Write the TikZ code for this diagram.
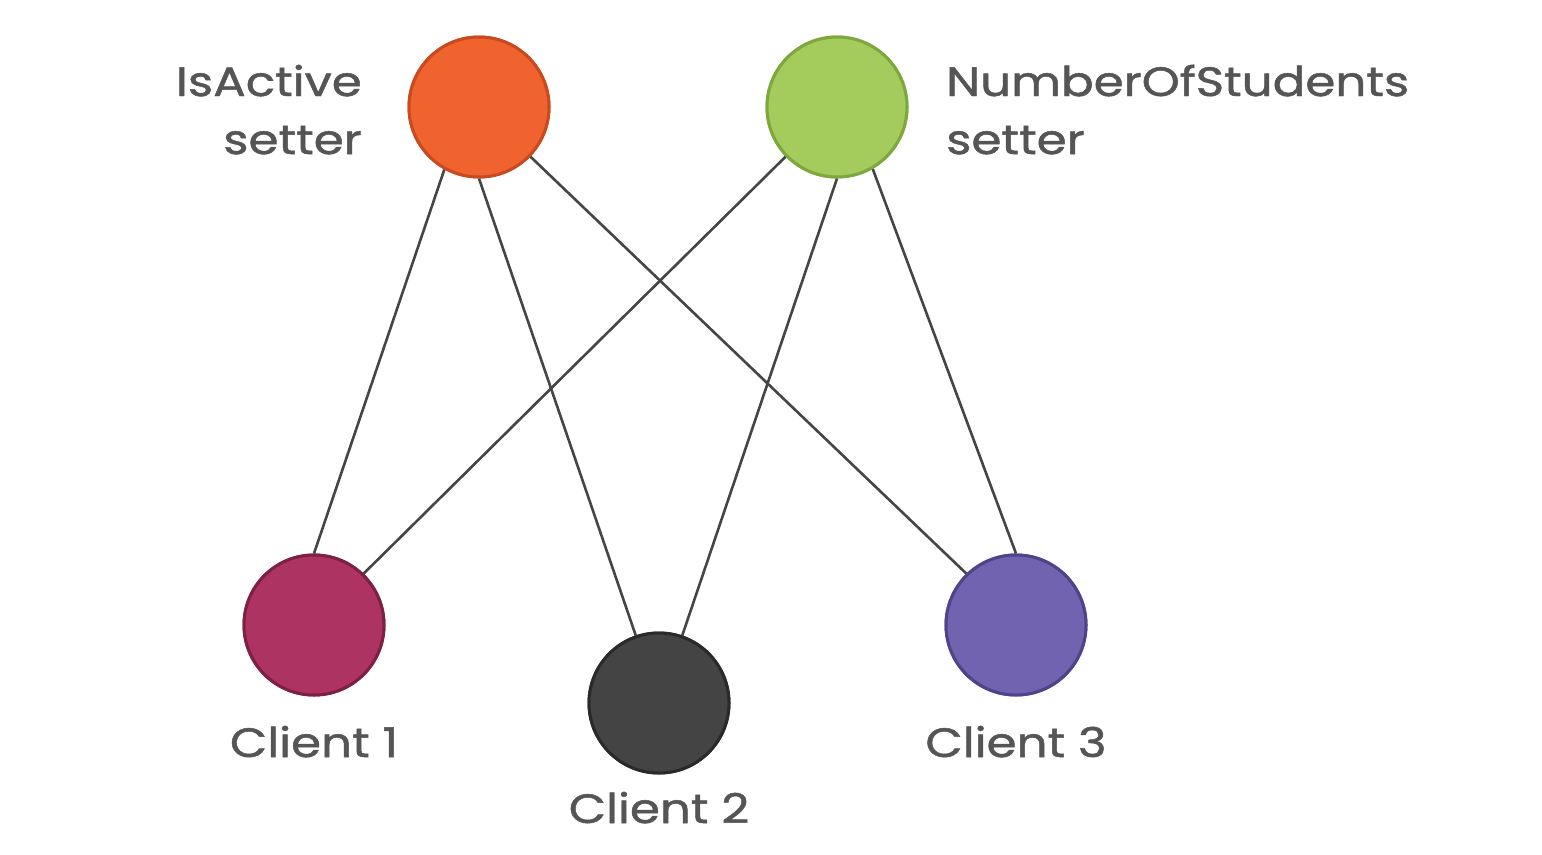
\documentclass[tikz,border=0pt]{standalone}
\usepackage{fontspec}
\setmainfont{Poppins}[FakeStretch=1.18, FakeBold=1.2]
\definecolor{txt}{HTML}{555555}
\definecolor{edge}{HTML}{454545}
\definecolor{orfill}{HTML}{F0632F}
\definecolor{ordraw}{HTML}{C94A1F}
\definecolor{grfill}{HTML}{A4CC5C}
\definecolor{grdraw}{HTML}{7EA83E}
\definecolor{c1fill}{HTML}{AD3462}
\definecolor{c1draw}{HTML}{7E1F45}
\definecolor{c2fill}{HTML}{444444}
\definecolor{c2draw}{HTML}{2A2A2A}
\definecolor{c3fill}{HTML}{7263B0}
\definecolor{c3draw}{HTML}{50438A}
\tikzset{
  ball/.style={circle, minimum size=140pt, inner sep=0pt, line width=3pt},
  link/.style={edge, line width=2.6pt},
  lbl/.style={text=txt, font=\fontsize{41}{58}\selectfont, inner sep=0pt}
}
\begin{document}
\begin{tikzpicture}[x=1pt,y=-1pt]
\useasboundingbox[fill=white] (0,0) rectangle (1542,854);
\node[ball, fill=orfill, draw=ordraw] (ia) at (479,107) {};
\node[ball, fill=grfill, draw=grdraw] (ns) at (837,107) {};
\node[ball, fill=c1fill, draw=c1draw] (c1) at (314,625) {};
\node[ball, fill=c2fill, draw=c2draw] (c2) at (659,703) {};
\node[ball, fill=c3fill, draw=c3draw] (c3) at (1016,625) {};
\draw[link] (ia.-119) -- (c1.90);
\draw[link] (ia.-90) -- (c2.109);
\draw[link] (ia.-44) -- (c3.134);
\draw[link] (ns.-136) -- (c1.46);
\draw[link] (ns.-90) -- (c2.71);
\draw[link] (ns.-60) -- (c3.90);
% circles again, above the links
\node[ball, fill=orfill, draw=ordraw] at (ia) {};
\node[ball, fill=grfill, draw=grdraw] at (ns) {};
\node[ball, fill=c1fill, draw=c1draw] at (c1) {};
\node[ball, fill=c2fill, draw=c2draw] at (c2) {};
\node[ball, fill=c3fill, draw=c3draw] at (c3) {};
% labels
\node[lbl, anchor=base east] (l1a) at (362,96) {IsActive};
\node[lbl, anchor=base east] (l1b) at (362,154) {setter};
\node[lbl, anchor=base west] (l2a) at (946,96) {NumberOfStudents};
\node[lbl, anchor=base west] (l2b) at (946,154) {setter};
\node[lbl, anchor=base] (t1) at (314,757) {Client 1};
\node[lbl, anchor=base] (t2) at (659,823) {Client 2};
\node[lbl, anchor=base] (t3) at (1016,757) {Client 3};
\end{tikzpicture}
\end{document}
